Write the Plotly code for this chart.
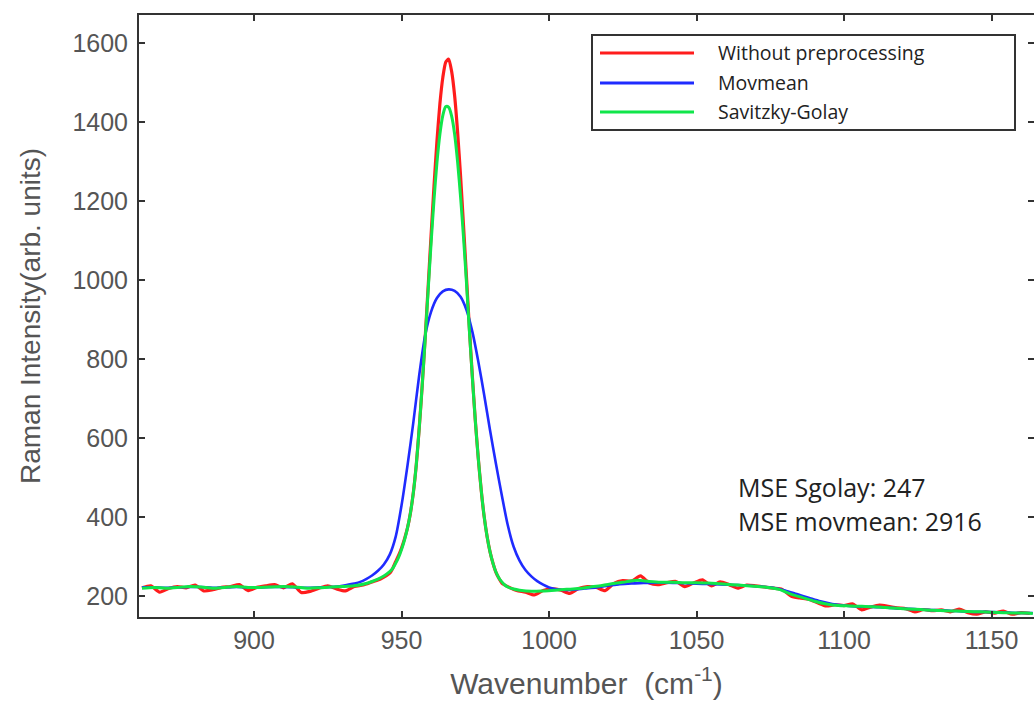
import plotly.graph_objects as go

# ---------------- data ----------------
red_x = [862, 865, 868, 871, 874, 877, 880, 883, 886, 889, 892, 895, 898, 901, 904, 907, 910, 913, 916, 919,
         922, 925, 928, 931, 934, 937, 940, 943, 946,
         947, 948, 949, 950, 951, 952, 953, 954, 955, 956, 957, 958, 959, 960, 961, 962, 963, 964, 965, 966,
         967, 968, 969, 970, 971, 972, 973, 974, 975, 976, 977, 978, 979, 980, 981, 982, 983, 984,
         986, 989, 992, 995, 998, 1001, 1004, 1007, 1010, 1013, 1016, 1019, 1022, 1025, 1028, 1031, 1034, 1037,
         1040, 1043, 1046, 1049, 1052, 1055, 1058, 1061, 1064, 1067, 1070, 1073, 1076, 1079, 1082, 1085, 1088,
         1091, 1094, 1097, 1100, 1103, 1106, 1109, 1112, 1115, 1118, 1121, 1124, 1127, 1130, 1133, 1136, 1139,
         1142, 1145, 1148, 1151, 1154, 1157, 1160, 1163]
red_y = [221, 226, 210, 219, 224, 221, 228, 213, 216, 222, 224, 229, 214, 222, 226, 229, 221, 231, 209, 212,
         220, 226, 218, 213, 224, 228, 236, 244, 258,
         270, 287, 303, 322, 345, 372, 410, 462, 533, 626, 733, 853, 981, 1112, 1238, 1352, 1447, 1514, 1553, 1560,
         1528, 1467, 1376, 1265, 1140, 1010, 878, 757, 646, 550, 469, 402, 351, 312, 283, 260, 245, 233,
         224, 214, 210, 203, 214, 218, 215, 207, 219, 224, 222, 214, 232, 239, 238, 251, 233, 229,
         234, 237, 224, 233, 241, 226, 236, 229, 220, 228, 226, 223, 220, 217, 200, 195, 192,
         183, 175, 178, 176, 180, 165, 172, 177, 174, 170, 168, 160, 166, 163, 165, 160, 167,
         158, 154, 160, 157, 162, 154, 158, 156]

blue_x = [862, 866, 870, 874, 878, 882, 886, 890, 894, 898, 902, 906, 910, 914, 918, 922, 926, 928,
          930, 932, 934, 936, 938, 940, 942, 944, 946, 948, 950, 952, 954, 956, 958, 960, 962, 964, 966,
          968, 970, 972, 974, 976, 978, 980, 982, 984, 986, 988, 990, 992, 994, 996, 998, 1000, 1002, 1004,
          1008, 1012, 1016, 1020, 1024, 1028, 1032, 1036, 1040, 1044, 1048, 1052, 1056, 1060, 1064, 1068,
          1072, 1076, 1080, 1084, 1088, 1092, 1096, 1100, 1104, 1108, 1112, 1116, 1120, 1124, 1128, 1132,
          1136, 1140, 1144, 1148, 1152, 1156, 1160, 1164]
blue_y = [222, 222, 221, 222, 223, 223, 221, 222, 223, 222, 222, 223, 223, 222, 221, 222, 223, 224,
          226, 229, 232, 236, 243, 252, 264, 280, 305, 350, 430, 530, 640, 760, 860, 920, 955, 972, 977,
          973, 958, 925, 870, 795, 710, 620, 535, 455, 380, 325, 290, 266, 250, 238, 229, 222, 218, 216,
          216, 219, 222, 226, 230, 232, 233, 234, 234, 233, 232, 231, 230, 229, 228, 226,
          224, 221, 214, 205, 196, 187, 180, 176, 174, 173, 172, 170, 168, 167, 165, 164,
          163, 161, 160, 160, 159, 158, 157, 157]

green_x = [862, 866, 870, 874, 878, 882, 886, 890, 894, 898, 902, 906, 910, 914, 918, 922, 926, 930, 934,
           938, 940, 942, 944, 946, 947, 948, 949, 950, 951, 952, 953, 954, 955, 956, 957, 958, 959, 960,
           961, 962, 963, 964, 965, 966, 967, 968, 969, 970, 971, 972, 973, 974, 975, 976, 977, 978, 979,
           980, 981, 982, 983, 984, 985, 986, 988, 990, 994, 998, 1002, 1006, 1010, 1014, 1018, 1022, 1026,
           1030, 1034, 1038, 1042, 1046, 1050, 1054, 1058, 1062, 1066, 1070, 1074, 1078, 1082, 1086, 1090,
           1094, 1098, 1102, 1106, 1110, 1114, 1118, 1122, 1126, 1130, 1134, 1138, 1142, 1146, 1150, 1154,
           1158, 1162, 1164]
green_y = [220, 222, 220, 222, 224, 223, 220, 222, 224, 222, 222, 223, 224, 223, 220, 221, 223, 224, 226,
           232, 237, 243, 251, 262, 270, 283, 298, 318, 342, 372, 410, 462, 533, 626, 733, 850, 972, 1092,
           1203, 1298, 1370, 1418, 1440, 1438, 1415, 1370, 1300, 1212, 1110, 995, 872, 755, 645, 550, 469, 402, 351,
           312, 283, 261, 246, 236, 228, 223, 218, 215, 212, 213, 215, 217, 219, 223, 227, 232, 236,
           240, 237, 235, 235, 234, 234, 233, 231, 229, 227, 225, 222, 217, 205, 196, 187,
           180, 176, 175, 174, 173, 171, 169, 167, 166, 164, 163, 162, 161, 160, 159, 158,
           157, 157, 156]

series_names = ["Without preprocessing", "Movmean", "Savitzky-Golay"]
series_colors = ["#ff1c1c", "#1f2bff", "#10e64a"]
annotation_lines = ["MSE Sgolay: 247", "MSE movmean: 2916"]
x_ticks = [900, 950, 1000, 1050, 1100, 1150]
y_ticks = [200, 400, 600, 800, 1000, 1200, 1400, 1600]
x_range = [861, 1164.4]
y_range = [147, 1672]

# ---------------- figure ----------------
fig = go.Figure()
fig.add_trace(go.Scatter(x=red_x, y=red_y, mode="lines", name=series_names[0],
                         line=dict(color=series_colors[0], width=3.2, shape="spline", smoothing=0.6)))
fig.add_trace(go.Scatter(x=blue_x, y=blue_y, mode="lines", name=series_names[1],
                         line=dict(color=series_colors[1], width=2.6, shape="spline", smoothing=0.8)))
fig.add_trace(go.Scatter(x=green_x, y=green_y, mode="lines", name=series_names[2], yaxis="y2",
                         line=dict(color=series_colors[2], width=3, shape="spline", smoothing=0.8)))

axis_col = "#333333"
tick_font = dict(family="Liberation Sans, Arial, sans-serif", size=25, color="#555555")

fig.update_layout(
    width=1034, height=702,
    margin=dict(l=139, r=0, t=15, b=85),
    paper_bgcolor="white", plot_bgcolor="white",
    showlegend=False,
    xaxis=dict(range=x_range, tickvals=x_ticks, ticks="inside", ticklen=6, tickwidth=2,
               tickcolor=axis_col, showline=True, linecolor=axis_col, linewidth=2, mirror="ticks",
               showgrid=False, zeroline=False, tickfont=tick_font,
               title=dict(text="Wavenumber  (cm<sup>-1</sup>)", standoff=20,
                          font=dict(family="Liberation Sans, Arial, sans-serif", size=30, color="#555555"))),
    yaxis=dict(range=y_range, tickvals=y_ticks, ticks="inside", ticklen=6, tickwidth=2,
               tickcolor=axis_col, showline=True, linecolor=axis_col, linewidth=2, mirror=False,
               showgrid=False, zeroline=False, tickfont=tick_font, ticklabelstandoff=4,
               title=dict(text="Raman Intensity(arb. units)", standoff=24,
                          font=dict(family="Liberation Sans Narrow, Arial Narrow, sans-serif", size=28,
                                    color="#555555"))),
    yaxis2=dict(range=y_range, tickvals=y_ticks, overlaying="y", side="right", ticks="inside",
                ticklen=6, tickwidth=2, tickcolor=axis_col, showticklabels=False, showline=False,
                showgrid=False, zeroline=False),
)

# manual legend (box, line samples and labels in paper coordinates)
px0, pw, py1, ph = 139, 895, 617, 602
def xp(p):
    return (p - px0) / pw
def yp(p):
    return (py1 - p) / ph

fig.add_shape(type="rect", xref="paper", yref="paper", x0=xp(592), x1=xp(1015), y0=yp(130), y1=yp(35),
              line=dict(color="#333333", width=2), fillcolor="white", layer="above")
legend_rows = [53, 83, 112]
for name, col, row in zip(series_names, series_colors, legend_rows):
    fig.add_shape(type="line", xref="paper", yref="paper", x0=xp(600), x1=xp(694), y0=yp(row), y1=yp(row),
                  line=dict(color=col, width=3), layer="above")
    fig.add_annotation(xref="paper", yref="paper", x=xp(716), y=yp(row - 1), text=name, showarrow=False,
                       xanchor="left", yanchor="middle",
                       font=dict(family="Open Sans, Noto Sans, sans-serif", size=19.5, color="#222222"))

for txt, row in zip(annotation_lines, [487, 521]):
    fig.add_annotation(xref="paper", yref="paper", x=xp(736), y=yp(row), text=txt, showarrow=False,
                       xanchor="left", yanchor="middle",
                       font=dict(family="Open Sans, Noto Sans, sans-serif", size=25, color="#222222"))

fig.write_html("out.html")
